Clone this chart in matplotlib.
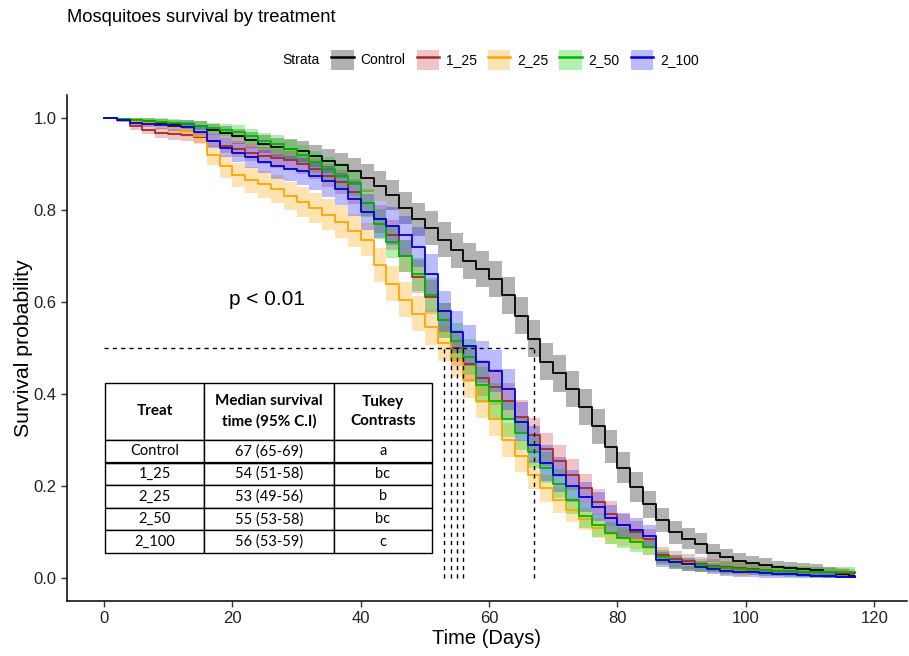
import numpy as np
import matplotlib
matplotlib.use("Agg")
import matplotlib.pyplot as plt
from matplotlib.patches import Patch
from matplotlib.lines import Line2D

# ---------------- data ----------------
times = list(range(0, 117, 2)) + [117]
strata = ["Control", "1_25", "2_25", "2_50", "2_100"]

surv_control = [1.000, 0.998, 0.995, 0.993, 0.990, 0.988, 0.986, 0.983, 0.975, 0.968,
                0.960, 0.952, 0.943, 0.936, 0.932, 0.928, 0.918, 0.907, 0.897, 0.884,
                0.870, 0.852, 0.832, 0.805, 0.780, 0.760, 0.735, 0.712, 0.690, 0.672,
                0.650, 0.615, 0.570, 0.520, 0.470, 0.445, 0.410, 0.372, 0.330, 0.285,
                0.240, 0.198, 0.160, 0.126, 0.100, 0.085, 0.075, 0.055, 0.045, 0.038,
                0.032, 0.028, 0.024, 0.021, 0.019, 0.017, 0.012, 0.008, 0.004, 0.003]
ci_control = [0.000, 0.003, 0.005, 0.006, 0.007, 0.008, 0.009, 0.010, 0.012, 0.014,
              0.016, 0.018, 0.020, 0.021, 0.022, 0.023, 0.024, 0.026, 0.027, 0.029,
              0.030, 0.032, 0.033, 0.035, 0.036, 0.037, 0.038, 0.038, 0.039, 0.039,
              0.040, 0.040, 0.040, 0.040, 0.040, 0.040, 0.039, 0.039, 0.038, 0.036,
              0.034, 0.032, 0.030, 0.027, 0.025, 0.023, 0.022, 0.020, 0.018, 0.017,
              0.016, 0.015, 0.014, 0.014, 0.013, 0.013, 0.012, 0.012, 0.011, 0.011]

surv_1_25 = [1.000, 0.995, 0.982, 0.975, 0.968, 0.965, 0.962, 0.958, 0.950, 0.940,
             0.932, 0.925, 0.918, 0.912, 0.908, 0.900, 0.890, 0.875, 0.860, 0.840,
             0.815, 0.780, 0.745, 0.700, 0.655, 0.610, 0.560, 0.500, 0.465, 0.435,
             0.415, 0.385, 0.350, 0.310, 0.280, 0.255, 0.225, 0.195, 0.165, 0.140,
             0.115, 0.100, 0.085, 0.050, 0.042, 0.036, 0.031, 0.027, 0.024, 0.021,
             0.019, 0.017, 0.016, 0.015, 0.014, 0.013, 0.012, 0.011, 0.010, 0.010]
ci_1_25 = [0.000, 0.004, 0.008, 0.010, 0.011, 0.012, 0.012, 0.013, 0.014, 0.016,
           0.017, 0.018, 0.019, 0.020, 0.021, 0.022, 0.023, 0.025, 0.026, 0.028,
           0.029, 0.031, 0.033, 0.035, 0.036, 0.037, 0.038, 0.039, 0.039, 0.039,
           0.039, 0.039, 0.038, 0.037, 0.036, 0.035, 0.033, 0.031, 0.029, 0.027,
           0.025, 0.023, 0.021, 0.018, 0.017, 0.016, 0.015, 0.014, 0.013, 0.013,
           0.012, 0.012, 0.011, 0.011, 0.011, 0.010, 0.010, 0.010, 0.010, 0.010]

surv_2_25 = [1.000, 0.997, 0.993, 0.990, 0.985, 0.980, 0.972, 0.960, 0.920, 0.895,
             0.876, 0.866, 0.856, 0.846, 0.830, 0.817, 0.805, 0.790, 0.775, 0.755,
             0.735, 0.680, 0.640, 0.605, 0.575, 0.545, 0.510, 0.475, 0.430, 0.385,
             0.345, 0.300, 0.265, 0.225, 0.195, 0.170, 0.148, 0.128, 0.108, 0.095,
             0.088, 0.082, 0.068, 0.045, 0.035, 0.028, 0.024, 0.020, 0.016, 0.012,
             0.007]
ci_2_25 = [0.000, 0.003, 0.006, 0.008, 0.010, 0.012, 0.014, 0.016, 0.022, 0.025,
           0.027, 0.028, 0.029, 0.030, 0.031, 0.032, 0.033, 0.034, 0.035, 0.036,
           0.036, 0.037, 0.038, 0.038, 0.039, 0.039, 0.039, 0.039, 0.039, 0.038,
           0.037, 0.036, 0.034, 0.032, 0.030, 0.028, 0.026, 0.024, 0.022, 0.020,
           0.019, 0.018, 0.017, 0.015, 0.013, 0.012, 0.011, 0.010, 0.009, 0.008,
           0.007]

surv_2_50 = [1.000, 0.998, 0.996, 0.994, 0.992, 0.990, 0.987, 0.983, 0.978, 0.974,
             0.970, 0.960, 0.950, 0.943, 0.932, 0.920, 0.905, 0.890, 0.875, 0.858,
             0.815, 0.770, 0.730, 0.700, 0.660, 0.615, 0.560, 0.515, 0.480, 0.420,
             0.385, 0.345, 0.315, 0.275, 0.240, 0.205, 0.170, 0.135, 0.115, 0.098,
             0.088, 0.078, 0.068, 0.045, 0.035, 0.030, 0.028, 0.025, 0.022, 0.020,
             0.018, 0.017, 0.016, 0.015, 0.014, 0.013, 0.013, 0.012, 0.012, 0.012]
ci_2_50 = [0.000, 0.003, 0.005, 0.006, 0.007, 0.008, 0.009, 0.010, 0.012, 0.013,
           0.014, 0.016, 0.018, 0.019, 0.021, 0.022, 0.024, 0.025, 0.027, 0.028,
           0.030, 0.032, 0.034, 0.035, 0.036, 0.037, 0.038, 0.039, 0.039, 0.039,
           0.039, 0.038, 0.037, 0.036, 0.034, 0.032, 0.030, 0.027, 0.025, 0.023,
           0.022, 0.021, 0.019, 0.016, 0.015, 0.014, 0.014, 0.013, 0.013, 0.012,
           0.012, 0.012, 0.012, 0.012, 0.012, 0.012, 0.012, 0.012, 0.012, 0.012]

surv_2_100 = [1.000, 0.995, 0.990, 0.988, 0.985, 0.982, 0.980, 0.970, 0.950, 0.935,
              0.925, 0.915, 0.905, 0.895, 0.890, 0.884, 0.875, 0.862, 0.845, 0.825,
              0.795, 0.780, 0.765, 0.745, 0.720, 0.660, 0.580, 0.535, 0.505, 0.470,
              0.450, 0.410, 0.340, 0.290, 0.250, 0.225, 0.200, 0.176, 0.155, 0.130,
              0.115, 0.105, 0.092, 0.040, 0.035, 0.030, 0.025, 0.020, 0.015, 0.013,
              0.012, 0.010, 0.009, 0.008, 0.007, 0.005, 0.004, 0.003, 0.003, 0.003]
ci_2_100 = [0.000, 0.004, 0.006, 0.008, 0.009, 0.010, 0.011, 0.013, 0.016, 0.019,
            0.021, 0.023, 0.025, 0.027, 0.028, 0.030, 0.031, 0.033, 0.035, 0.037,
            0.039, 0.040, 0.041, 0.042, 0.043, 0.044, 0.045, 0.045, 0.045, 0.045,
            0.045, 0.044, 0.043, 0.041, 0.039, 0.037, 0.035, 0.033, 0.031, 0.029,
            0.027, 0.026, 0.024, 0.016, 0.015, 0.014, 0.013, 0.012, 0.011, 0.010,
            0.010, 0.009, 0.009, 0.008, 0.008, 0.007, 0.006, 0.006, 0.005, 0.005]

survival = [surv_control, surv_1_25, surv_2_25, surv_2_50, surv_2_100]
ci_half = [ci_control, ci_1_25, ci_2_25, ci_2_50, ci_2_100]
medians = [67, 54, 53, 55, 56]

line_colors = ["#000000", "#A52A2A", "#FFA500", "#00B400", "#0000CD"]
fill_colors = ["#000000", "#C83C3C", "#FFA500", "#00D000", "#2020FF"]

table_header = ["Treat", "Median survival\ntime (95% C.I)", "Tukey\nContrasts"]
table_median = ["67 (65-69)", "54 (51-58)", "53 (49-56)", "55 (53-58)", "56 (53-59)"]
table_tukey = ["a", "bc", "b", "bc", "c"]

# ---------------- figure ----------------
W, H = 909, 656
fig = plt.figure(figsize=(W / 100, H / 100), dpi=100)
ax = fig.add_axes([67 / W, 55 / H, 840 / W, 506 / H])

base_font = "Liberation Sans"

for s, ci, fc in zip(survival, ci_half, fill_colors):
    t = np.array(times[:len(s)])
    s = np.array(s)
    ci = np.array(ci)
    ax.fill_between(t, np.clip(s - ci, 0, 1), np.clip(s + ci, 0, 1), step="post",
                    color=fc, alpha=0.3, linewidth=0)
for s, lc in zip(survival, line_colors):
    t = np.array(times[:len(s)])
    ax.plot(t, s, drawstyle="steps-post", color=lc, lw=1.3)

# median lines
ax.plot([0, max(medians)], [0.5, 0.5], ls=(0, (3, 3)), color="black", lw=1.0)
for m in medians:
    ax.plot([m, m], [0, 0.5], ls=(0, (3, 3)), color="black", lw=1.0)

ax.text(25.4, 0.605, "p < 0.01", fontsize=15, family=base_font, ha="center", va="center")

ax.set_xlim(-5.76, 125.1)
ax.set_ylim(-0.05, 1.05)
ax.set_xticks([0, 20, 40, 60, 80, 100, 120])
ax.set_yticks([0.0, 0.2, 0.4, 0.6, 0.8, 1.0])
ax.set_yticklabels(["0.0", "0.2", "0.4", "0.6", "0.8", "1.0"])
for sp in ["top", "right"]:
    ax.spines[sp].set_visible(False)
for sp in ["left", "bottom"]:
    ax.spines[sp].set_linewidth(1.1)
ax.tick_params(length=4, width=1, colors="#333333", labelsize=12, labelcolor="#222222")
for lab in ax.get_xticklabels() + ax.get_yticklabels():
    lab.set_family(base_font)
ax.set_xlabel("Time (Days)", fontsize=14.5, family=base_font, labelpad=2)
ax.set_ylabel("Survival probability", fontsize=15.3, family=base_font, labelpad=0)

# table
cell_text = [[a, b, c] for a, b, c in zip(strata, table_median, table_tukey)]
tbl = ax.table(cellText=cell_text, colLabels=table_header, cellLoc="center",
               colWidths=[99, 130, 98], bbox=[0.0452, 0.0949, 0.3893, 0.336])
tbl.auto_set_font_size(False)
hdr_h = 57
row_h = 22.6
for (r, c), cell in tbl.get_celld().items():
    cell.set_linewidth(1.0)
    cell.set_edgecolor("black")
    cell.get_text().set_fontsize(10.5)
    cell.get_text().set_family("Lato")
    if r == 0:
        cell.set_height(hdr_h)
        cell.get_text().set_fontweight("bold")
        cell.get_text().set_fontsize(11)
        cell.get_text().set_linespacing(1.5)
    else:
        cell.set_height(row_h)
# thicker line between first and second data row
y_sep = 0.0949 + 0.336 * (4 * row_h) / (hdr_h + 5 * row_h)
ax.plot([0.0452, 0.0452 + 0.3893], [y_sep, y_sep], color="black", lw=1.6,
        transform=ax.transAxes, zorder=10, solid_capstyle="butt")

# title
fig.text(67 / W, 1 - 18 / H, "Mosquitoes survival by treatment", fontsize=13.2,
         family=base_font, ha="left", va="center")

# legend
handles = []
for lc, fc in zip(line_colors, fill_colors):
    handles.append((Patch(facecolor=fc, alpha=0.3, edgecolor="none"),
                    Line2D([0], [0], color=lc, lw=1.8)))
fig.text(301 / W, 1 - 60 / H, "Strata", fontsize=10, family=base_font,
         ha="center", va="center")
leg = fig.legend(handles, strata, ncol=5, loc="center", bbox_to_anchor=(515 / W, 1 - 60 / H),
                 frameon=False, handlelength=1.6, handleheight=1.9,
                 handletextpad=0.5, columnspacing=0.8, borderpad=0.2,
                 prop={"family": base_font, "size": 10})

fig.savefig("out.png", dpi=100)
